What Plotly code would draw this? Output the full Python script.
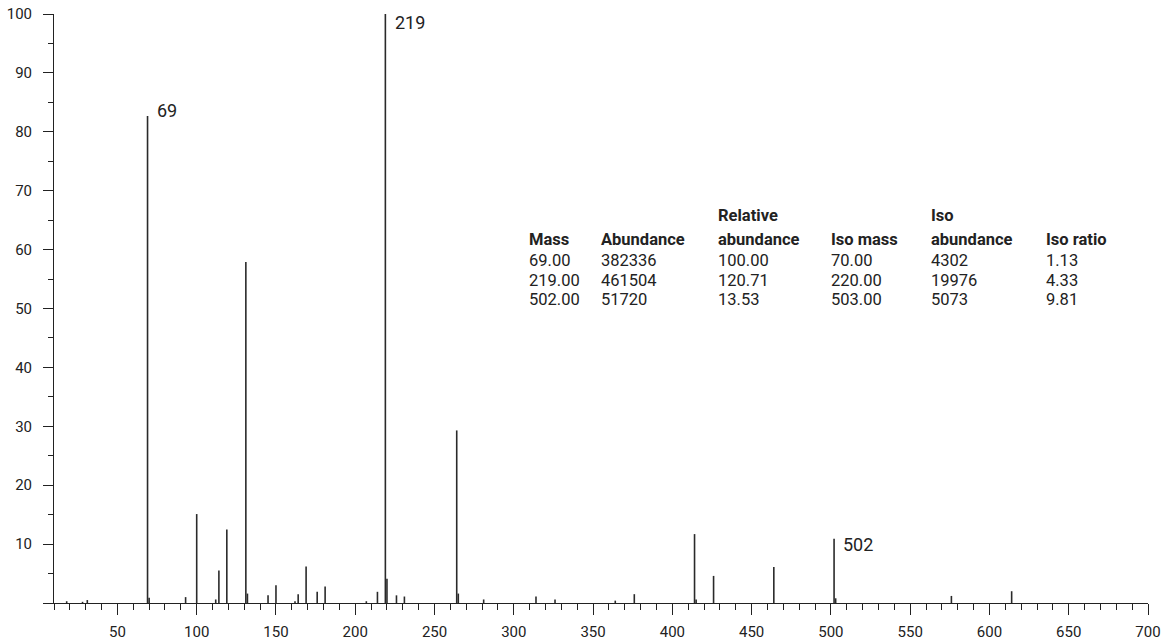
import plotly.graph_objects as go

# ---- data ----
masses = [18, 28, 31, 69, 70, 93, 100, 112, 114, 119, 131, 132, 145, 150, 162, 164,
          169, 176, 181, 207, 214, 219, 220, 226, 231, 264, 265, 281, 314, 326, 364,
          376, 414, 415, 426, 464, 502, 503, 576, 614]
abundance = [0.3, 0.2, 0.5, 82.7, 0.9, 1.0, 15.1, 0.6, 5.5, 12.5, 57.9, 1.6, 1.3, 3.0, 0.3, 1.5,
             6.2, 1.9, 2.8, 0.3, 1.9, 100.0, 4.1, 1.3, 1.1, 29.3, 1.6, 0.6, 1.1, 0.6, 0.4,
             1.5, 11.7, 0.6, 4.6, 6.1, 10.9, 0.8, 1.2, 2.0]
labeled_masses = [69, 219, 502]

x_tick_vals = list(range(50, 701, 50))
y_tick_vals = list(range(0, 101, 10))
y_tick_text = [""] + [str(v) for v in y_tick_vals[1:]]

table_headers = [("", "Mass"), ("", "Abundance"), ("Relative", "abundance"),
                 ("", "Iso mass"), ("Iso", "abundance"), ("", "Iso ratio")]
table_rows = [
    ["69.00", "382336", "100.00", "70.00", "4302", "1.13"],
    ["219.00", "461504", "120.71", "220.00", "19976", "4.33"],
    ["502.00", "51720", "13.53", "503.00", "5073", "9.81"],
]

# ---- styling / layout helpers ----
FONT = "Roboto, Liberation Sans, sans-serif"
L, R, T, B = 54, 18, 14, 40
W, H = 1166, 643
PW, PH = W - L - R, H - T - B

def px_to_paper_x(px):
    return (px - L) / PW

def px_to_paper_y(py):
    return (H - B - py) / PH

xs, ys = [], []
for m, a in zip(masses, abundance):
    xs += [m, m, None]
    ys += [0, a, None]

fig = go.Figure()
fig.add_trace(go.Scatter(x=xs, y=ys, mode="lines",
                         line=dict(color="#2a2a2a", width=1.6),
                         hoverinfo="skip", showlegend=False))

label_shift = {69: (7, 5), 219: (8, -8), 502: (7, -6)}
for m in labeled_masses:
    a = abundance[masses.index(m)]
    dx, dy = label_shift[m]
    fig.add_annotation(x=m, y=a, text=str(m), showarrow=False,
                       xanchor="left", yanchor="middle", xshift=dx, yshift=dy,
                       font=dict(family=FONT, size=18, color="#222"))

TABLE_SIZE = 16.5
col_px = [527, 599, 716, 829, 929, 1044]
row_py = [215, 240, 260, 280, 299]
for c, (h1, h2) in enumerate(table_headers):
    if h1:
        fig.add_annotation(xref="paper", yref="paper", x=px_to_paper_x(col_px[c]),
                           y=px_to_paper_y(row_py[0]), text="<b>%s</b>" % h1,
                           showarrow=False, xanchor="left", yanchor="middle",
                           font=dict(family=FONT, size=TABLE_SIZE, color="#222"))
    fig.add_annotation(xref="paper", yref="paper", x=px_to_paper_x(col_px[c]),
                       y=px_to_paper_y(row_py[1]), text="<b>%s</b>" % h2,
                       showarrow=False, xanchor="left", yanchor="middle",
                       font=dict(family=FONT, size=TABLE_SIZE, color="#222"))
for r, row in enumerate(table_rows):
    for c, val in enumerate(row):
        fig.add_annotation(xref="paper", yref="paper", x=px_to_paper_x(col_px[c]),
                           y=px_to_paper_y(row_py[2 + r]), text=val,
                           showarrow=False, xanchor="left", yanchor="middle",
                           font=dict(family=FONT, size=TABLE_SIZE, color="#222"))

fig.update_layout(
    width=W, height=H,
    margin=dict(l=L, r=R, t=T, b=B, autoexpand=False),
    paper_bgcolor="white", plot_bgcolor="white",
    font=dict(family=FONT, size=15, color="#222"),
    xaxis=dict(range=[10, 700], tickvals=x_tick_vals, ticks="outside", ticklen=11,
               tickwidth=1, tickcolor="#222", showline=True, linecolor="#222",
               linewidth=1, showgrid=False, zeroline=False, automargin=False,
               minor=dict(dtick=10, tick0=0, ticks="outside", ticklen=6,
                          tickcolor="#222", tickwidth=1, showgrid=False),
               tickfont=dict(family=FONT, size=15, color="#222"), ticklabelstandoff=4),
    yaxis=dict(range=[0, 100], tickvals=y_tick_vals, ticktext=y_tick_text,
               ticks="outside", ticklen=10, tickwidth=1, tickcolor="#222",
               showline=True, linecolor="#222", linewidth=1, showgrid=False,
               zeroline=False, automargin=False,
               minor=dict(dtick=5, tick0=0, ticks="outside", ticklen=5,
                          tickcolor="#222", tickwidth=1, showgrid=False),
               tickfont=dict(family=FONT, size=15, color="#222"), ticklabelstandoff=8),
)

fig.write_html("out.html", config={"displayModeBar": False},
               post_script="document.body.style.margin='0';document.body.style.overflow='hidden';")
